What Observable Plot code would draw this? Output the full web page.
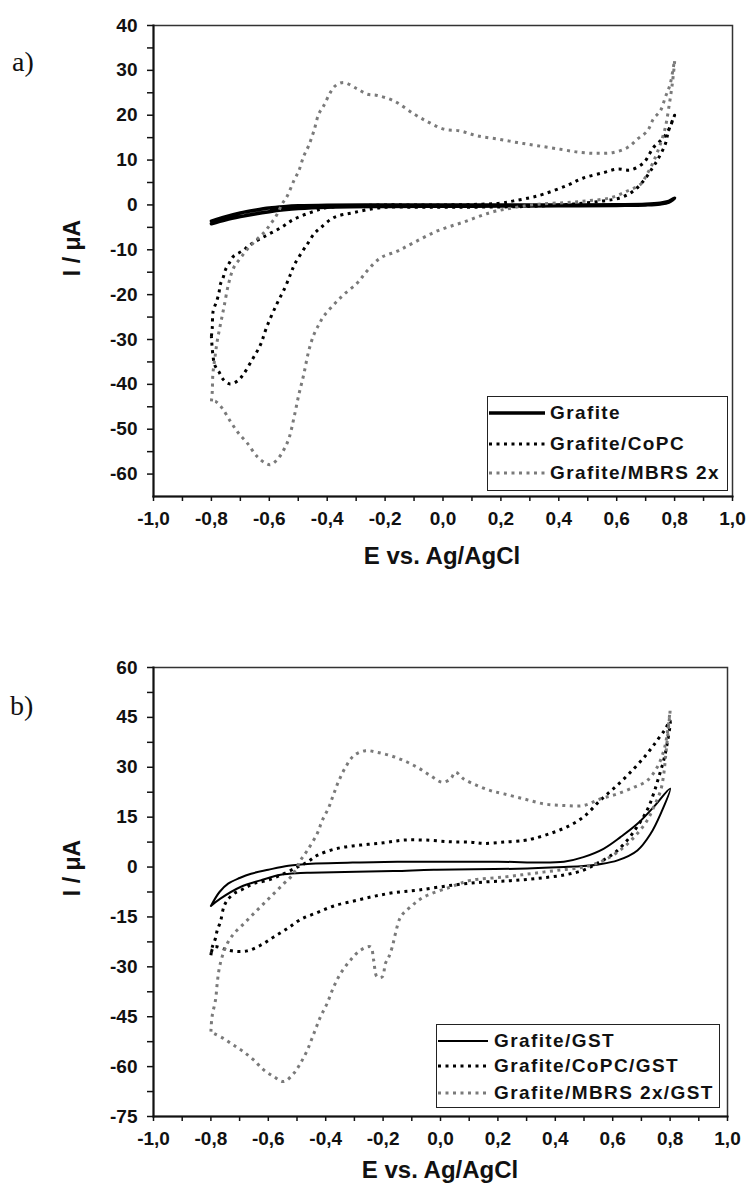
<!DOCTYPE html>
<html>
<head>
<meta charset="utf-8">
<script src="https://cdn.jsdelivr.net/npm/d3@7"></script>
<script src="https://cdn.jsdelivr.net/npm/@observablehq/plot@0.6"></script>
<style>
  body { margin: 0; background: #fff; }
  #wrap { position: relative; width: 747px; height: 1184px; overflow: hidden; background: #fff;
          font-family: "Liberation Sans", Arial, sans-serif; color: #111; }
  .panel { position: absolute; left: 0; }
  .tag { position: absolute; font-family: "Liberation Serif", "Times New Roman", serif; font-size: 28px; line-height: 28px; color: #111; }
  .ytitle { position: absolute; width: 140px; height: 28px; line-height: 28px; text-align: center;
            font-weight: bold; font-size: 23px; transform: rotate(-90deg); white-space: nowrap; }
  .xtitle { position: absolute; width: 400px; height: 26px; line-height: 26px; text-align: center;
            font-weight: bold; font-size: 24px; white-space: nowrap; }
  .legend { position: absolute; border: 1.5px solid #222; background: #fff; box-sizing: border-box; }
  .lrow { position: absolute; left: 0; height: 24px; display: flex; align-items: center; white-space: nowrap;
          font-weight: bold; font-size: 19px; letter-spacing: 1.4px; }
  .lrow svg { display: block; }
</style>
</head>
<body>
<div id="wrap"></div>
<script>
// ---------- axis ticks ----------
const X_TICKS = [-1, -0.8, -0.6, -0.4, -0.2, 0, 0.2, 0.4, 0.6, 0.8, 1];
const X_MINOR = [-0.9, -0.7, -0.5, -0.3, -0.1, 0.1, 0.3, 0.5, 0.7, 0.9];
const Y_TICKS_A = [-60, -50, -40, -30, -20, -10, 0, 10, 20, 30, 40];
const Y_MINOR_A = [-55, -45, -35, -25, -15, -5, 5, 15, 25, 35];
const Y_DOMAIN_A = [-65, 40];
const Y_TICKS_B = [-75, -60, -45, -30, -15, 0, 15, 30, 45, 60];
const Y_MINOR_B = [-67.5, -52.5, -37.5, -22.5, -7.5, 7.5, 22.5, 37.5, 52.5];
const Y_DOMAIN_B = [-75, 60];
const X_DOMAIN = [-1, 1];

// ---------- panel a ----------
const SERIES_A = ["Grafite", "Grafite/CoPC", "Grafite/MBRS 2x"];
const E_A_GRAF = [-0.80,-0.75,-0.70,-0.65,-0.60,-0.55,-0.50,-0.40,-0.20,0.00,0.20,0.40,0.60,0.70,0.75,0.78,0.80,
                  0.78,0.75,0.70,0.60,0.40,0.20,0.00,-0.20,-0.40,-0.50,-0.55,-0.60,-0.65,-0.70,-0.75,-0.80];
const I_A_GRAF = [-3.6,-2.6,-1.8,-1.2,-0.7,-0.4,-0.2,-0.05,0,0,0,0,0.05,0.15,0.4,0.8,1.5,
                  0.6,0.2,0,-0.1,-0.2,-0.25,-0.3,-0.35,-0.5,-0.8,-1.1,-1.5,-2.0,-2.6,-3.3,-4.2];

const E_A_COPC = [-0.800,-0.797,-0.794,-0.782,-0.774,-0.769,-0.759,-0.751,-0.736,-0.723,-0.694,-0.665,-0.613,-0.561,-0.515,-0.458,-0.400,-0.300,-0.200,-0.100,0.000,0.100,0.200,0.244,0.300,0.347,0.430,0.485,0.554,0.603,0.648,0.693,0.727,0.762,0.785,0.800,
                  0.779,0.768,0.745,0.724,0.693,0.658,0.613,0.554,0.450,0.350,0.250,0.100,0.000,-0.100,-0.216,-0.308,-0.377,-0.423,-0.446,-0.469,-0.481,-0.513,-0.527,-0.547,-0.575,-0.610,-0.630,-0.659,-0.690,-0.709,-0.736,-0.759,-0.774,-0.789,-0.800];
const I_A_COPC = [-29.3,-27.4,-23.7,-21.5,-19.6,-17.7,-16.1,-14.4,-12.7,-11.4,-10.3,-8.8,-6.9,-5.1,-3.2,-1.7,-0.6,-0.2,0,0,0,0.1,0.4,0.9,1.6,2.4,4.4,6.0,7.2,8.0,7.8,9.4,12.8,15.0,17.5,20.0,
                  16.5,13.6,10.5,8.3,5.4,3.1,1.6,0.9,0.2,-0.2,-0.4,-0.5,-0.5,-0.5,-0.6,-1.7,-2.8,-5.1,-6.5,-8.8,-9.9,-13.3,-15.5,-18.6,-22.2,-27.4,-31.1,-34.5,-37.8,-39.2,-39.9,-38.9,-37.2,-35.6,-29.3];

const E_A_MBRS = [-0.800,-0.797,-0.795,-0.788,-0.780,-0.769,-0.757,-0.740,-0.723,-0.699,-0.676,-0.648,-0.619,-0.596,-0.573,-0.556,-0.538,-0.515,-0.498,-0.481,-0.464,-0.446,-0.429,-0.412,-0.389,-0.371,-0.343,-0.297,-0.262,-0.227,-0.170,-0.101,-0.049,0.003,0.060,0.118,0.189,0.257,0.326,0.406,0.475,0.534,0.589,0.637,0.672,0.706,0.727,0.751,0.768,0.785,0.800,
                  0.792,0.780,0.768,0.751,0.728,0.705,0.682,0.636,0.579,0.498,0.417,0.325,0.245,0.164,0.072,-0.020,-0.101,-0.158,-0.216,-0.262,-0.296,-0.343,-0.377,-0.412,-0.429,-0.446,-0.464,-0.481,-0.498,-0.515,-0.532,-0.550,-0.573,-0.596,-0.613,-0.642,-0.676,-0.706,-0.734,-0.763,-0.786,-0.800];
const I_A_MBRS = [-43.8,-41.6,-37.8,-34.1,-30.4,-26.7,-22.9,-17.4,-14.0,-11.8,-9.9,-8.0,-6.2,-4.3,-2.1,0.2,2.0,5.4,7.6,10.9,13.2,16.5,20.3,22.1,25.1,26.6,27.3,25.9,24.7,24.4,23.2,20.3,18.4,16.9,16.5,15.4,14.7,13.9,13.2,12.4,11.7,11.5,11.7,12.8,14.7,16.5,19.2,21.0,24.0,27.0,32.2,
                  27.0,21.7,17.3,13.6,9.8,6.9,4.6,3.1,1.6,0.9,0.5,0.15,-0.6,-1.7,-3.8,-5.8,-8.4,-10.3,-11.8,-14.7,-17.4,-20.0,-22.2,-24.8,-26.7,-28.9,-32.6,-37.8,-42.3,-47.5,-52.0,-54.6,-56.8,-57.9,-57.6,-56.1,-53.1,-50.9,-48.3,-45.3,-43.8,-43.8];

// ---------- panel b ----------
const SERIES_B = ["Grafite/GST", "Grafite/CoPC/GST", "Grafite/MBRS 2x/GST"];
const E_B_GRAF = [-0.80,-0.77,-0.74,-0.70,-0.66,-0.60,-0.53,-0.45,-0.324,-0.15,0.00,0.20,0.43,0.498,0.568,0.627,0.686,0.742,0.80,
                  0.767,0.732,0.686,0.617,0.55,0.498,0.43,0.268,-0.024,-0.164,-0.453,-0.488,-0.557,-0.627,-0.697,-0.767,-0.80];
const I_B_GRAF = [-11.7,-7.5,-5.0,-3.3,-2.0,-0.8,0.4,1.0,1.3,1.6,1.6,1.6,1.6,3.0,5.5,9.0,13.0,18.0,23.6,
                  16.0,10.0,5.0,2.0,0.8,0.3,0.0,-0.5,-0.8,-1.2,-1.7,-1.8,-2.3,-4.0,-6.0,-9.5,-11.7];

const E_B_COPC = [-0.800,-0.795,-0.784,-0.778,-0.767,-0.755,-0.743,-0.720,-0.685,-0.651,-0.604,-0.546,-0.499,-0.464,-0.430,-0.360,-0.279,-0.198,-0.128,-0.050,0.035,0.105,0.151,0.221,0.290,0.325,0.383,0.441,0.499,0.557,0.616,0.674,0.720,0.755,0.784,0.800,
                  0.790,0.778,0.761,0.743,0.720,0.685,0.651,0.604,0.546,0.499,0.430,0.337,0.244,0.151,0.046,-0.075,-0.163,-0.232,-0.302,-0.372,-0.430,-0.488,-0.534,-0.581,-0.627,-0.674,-0.720,-0.755,-0.790,-0.800];
const I_B_COPC = [-26.5,-24.0,-21.4,-19.0,-16.5,-12.0,-10.0,-8.0,-6.5,-5.0,-4.0,-2.0,0.0,1.5,3.5,5.6,6.6,7.3,8.1,8.1,7.6,7.5,7.1,7.5,8.0,8.6,10.1,12.1,15.1,20.1,24.6,29.6,34.1,38.1,41.6,44.0,
                  37.2,32.2,27.2,22.2,17.1,12.1,8.1,4.1,1.1,-0.9,-2.4,-3.4,-4.1,-4.5,-5.4,-6.9,-7.7,-8.8,-10.2,-11.7,-13.7,-15.8,-18.5,-21.0,-23.5,-25.2,-25.3,-24.6,-24.0,-26.5];

const E_B_MBRS = [-0.800,-0.796,-0.784,-0.778,-0.772,-0.761,-0.743,-0.720,-0.685,-0.651,-0.616,-0.581,-0.546,-0.517,-0.488,-0.464,-0.430,-0.412,-0.389,-0.372,-0.354,-0.331,-0.302,-0.261,-0.221,-0.174,-0.128,-0.081,-0.035,0.006,0.035,0.052,0.081,0.128,0.174,0.221,0.290,0.360,0.430,0.499,0.557,0.616,0.674,0.720,0.755,0.778,0.790,0.800,
                  0.784,0.778,0.767,0.743,0.720,0.685,0.639,0.569,0.499,0.406,0.314,0.221,0.105,0.035,-0.058,-0.105,-0.139,-0.157,-0.168,-0.180,-0.192,-0.203,-0.221,-0.233,-0.244,-0.279,-0.314,-0.348,-0.372,-0.395,-0.418,-0.441,-0.464,-0.488,-0.511,-0.546,-0.581,-0.616,-0.651,-0.685,-0.720,-0.755,-0.790,-0.800];
const I_B_MBRS = [-49.5,-45,-40,-35,-31,-27,-23,-20,-17,-14,-11,-8,-5,-2.5,2,5,10,14,18,22,26,30,33.5,35,34.5,33.5,32,30,27.5,25.5,26.5,28.5,26.5,24.5,23,22,20.5,19,18.5,18.5,20.5,22,24,26,30,35,40,47,
                  33,28,23,18,14,10,6,2,0,-1,-2,-3,-4,-6,-9,-12,-15,-20,-24,-27,-29,-33,-33,-28,-24,-25,-28,-32,-36,-41,-45,-50,-55,-59,-62,-64.5,-63,-61,-58,-55.6,-53.6,-51.6,-50,-49.5];

// ---------- styles ----------
const STYLES = [
  {stroke: "#000", strokeWidth: 3.5, strokeDasharray: null},
  {stroke: "#000", strokeWidth: 3, strokeDasharray: "3,4.5"},
  {stroke: "#7a7a7a", strokeWidth: 3, strokeDasharray: "3,4.5"}
];
const STYLES_B = [
  {stroke: "#000", strokeWidth: 2, strokeDasharray: null},
  STYLES[1], STYLES[2]
];

const rows = (E, I) => E.map((e, k) => ({E: e, I: I[k]}));
const fmtX = d => d.toFixed(1).replace(".", ",");
const AX_TEXT = {fontSize: 19, fontWeight: "bold", fontFamily: "Liberation Sans, Arial, sans-serif", fill: "#111"};

function panel({series, styles, yDomain, yTicks, yMinor, height, marginTop, marginBottom, marginRight}) {
  const lineMarks = series.map((s, k) => {
    const st = styles[k];
    const o = {x: "E", y: "I", stroke: st.stroke, strokeWidth: st.strokeWidth, strokeLinejoin: "round", curve: "catmull-rom"};
    if (st.strokeDasharray) { o.strokeDasharray = st.strokeDasharray; o.strokeLinecap = "butt"; }
    return Plot.line(s, o);
  });
  return Plot.plot({
    width: 747, height, marginLeft: 153, marginRight, marginTop, marginBottom,
    style: {fontFamily: "Liberation Sans, Arial, sans-serif", fontSize: "19px", fontWeight: "bold", color: "#111", background: "#fff"},
    x: {domain: X_DOMAIN, label: null},
    y: {domain: yDomain, label: null},
    marks: [
      ...lineMarks,
      Plot.frame({stroke: "#333", strokeWidth: 1.5}),
      Plot.axisX(X_MINOR, {tickSize: 5, text: null, label: null, stroke: "#111", strokeWidth: 1.5}),
      Plot.axisX(X_TICKS, {tickSize: 5, tickPadding: 10, tickFormat: fmtX, label: null, stroke: "#111", strokeWidth: 1.5, ...AX_TEXT}),
      Plot.axisY(yMinor, {tickSize: 6, text: null, label: null, stroke: "#111", strokeWidth: 1.5}),
      Plot.axisY(yTicks, {tickSize: 6, tickPadding: 10, tickFormat: d => String(d), label: null, stroke: "#111", strokeWidth: 1.5, ...AX_TEXT}),
      Plot.frame({anchor: "left", stroke: "#111", strokeWidth: 2}),
      Plot.frame({anchor: "bottom", stroke: "#111", strokeWidth: 2})
    ]
  });
}

const wrap = document.getElementById("wrap");

const plotA = panel({
  series: [rows(E_A_GRAF, I_A_GRAF), rows(E_A_COPC, I_A_COPC), rows(E_A_MBRS, I_A_MBRS)],
  styles: STYLES, yDomain: Y_DOMAIN_A, yTicks: Y_TICKS_A, yMinor: Y_MINOR_A,
  height: 592, marginTop: 25, marginBottom: 96, marginRight: 15
});
const plotB = panel({
  series: [rows(E_B_GRAF, I_B_GRAF), rows(E_B_COPC, I_B_COPC), rows(E_B_MBRS, I_B_MBRS)],
  styles: STYLES_B, yDomain: Y_DOMAIN_B, yTicks: Y_TICKS_B, yMinor: Y_MINOR_B,
  height: 592, marginTop: 75, marginBottom: 68, marginRight: 20
});

function place(el, top) { const d = document.createElement("div"); d.className = "panel"; d.style.top = top + "px"; d.appendChild(el); wrap.appendChild(d); }
place(plotA, 0);
place(plotB, 592);

function addDiv(cls, text, css) {
  const d = document.createElement("div"); d.className = cls; d.textContent = text;
  Object.assign(d.style, css); wrap.appendChild(d); return d;
}
// panel tags
addDiv("tag", "a)", {left: "12px", top: "48px"});
addDiv("tag", "b)", {left: "10px", top: "692px"});
// axis titles
addDiv("ytitle", "I / μA", {left: (72 - 70) + "px", top: (248 - 14) + "px"});
addDiv("ytitle", "I / μA", {left: (72 - 70) + "px", top: (868 - 14) + "px"});
addDiv("xtitle", "E vs. Ag/AgCl", {left: (442 - 200) + "px", top: "543px"});
addDiv("xtitle", "E vs. Ag/AgCl", {left: (440 - 200) + "px", top: "1157px"});

// legends
function legend(names, styles, box, rowCenters, sampleW, textGap) {
  const lg = document.createElement("div"); lg.className = "legend";
  Object.assign(lg.style, {left: box.l + "px", top: box.t + "px", width: (box.r - box.l) + "px", height: (box.b - box.t) + "px"});
  names.forEach((n, k) => {
    const st = styles[k];
    const r = document.createElement("div"); r.className = "lrow";
    r.style.top = (rowCenters[k] - box.t - 12) + "px";
    const svg = d3.create("svg").attr("width", sampleW + textGap).attr("height", 24);
    const ln = svg.append("line").attr("x1", 1).attr("x2", sampleW).attr("y1", 12).attr("y2", 12)
      .attr("stroke", st.stroke).attr("stroke-width", st.strokeWidth);
    if (st.strokeDasharray) ln.attr("stroke-dasharray", st.strokeDasharray);
    r.appendChild(svg.node());
    const sp = document.createElement("span"); sp.textContent = n; r.appendChild(sp);
    lg.appendChild(r);
  });
  wrap.appendChild(lg);
}
legend(SERIES_A, STYLES, {l: 487, t: 396, r: 728, b: 491}, [412, 443, 472], 57, 5);
legend(SERIES_B, STYLES_B, {l: 436, t: 1024, r: 720, b: 1108}, [1040, 1065, 1092], 51, 6);
</script>
</body>
</html>
